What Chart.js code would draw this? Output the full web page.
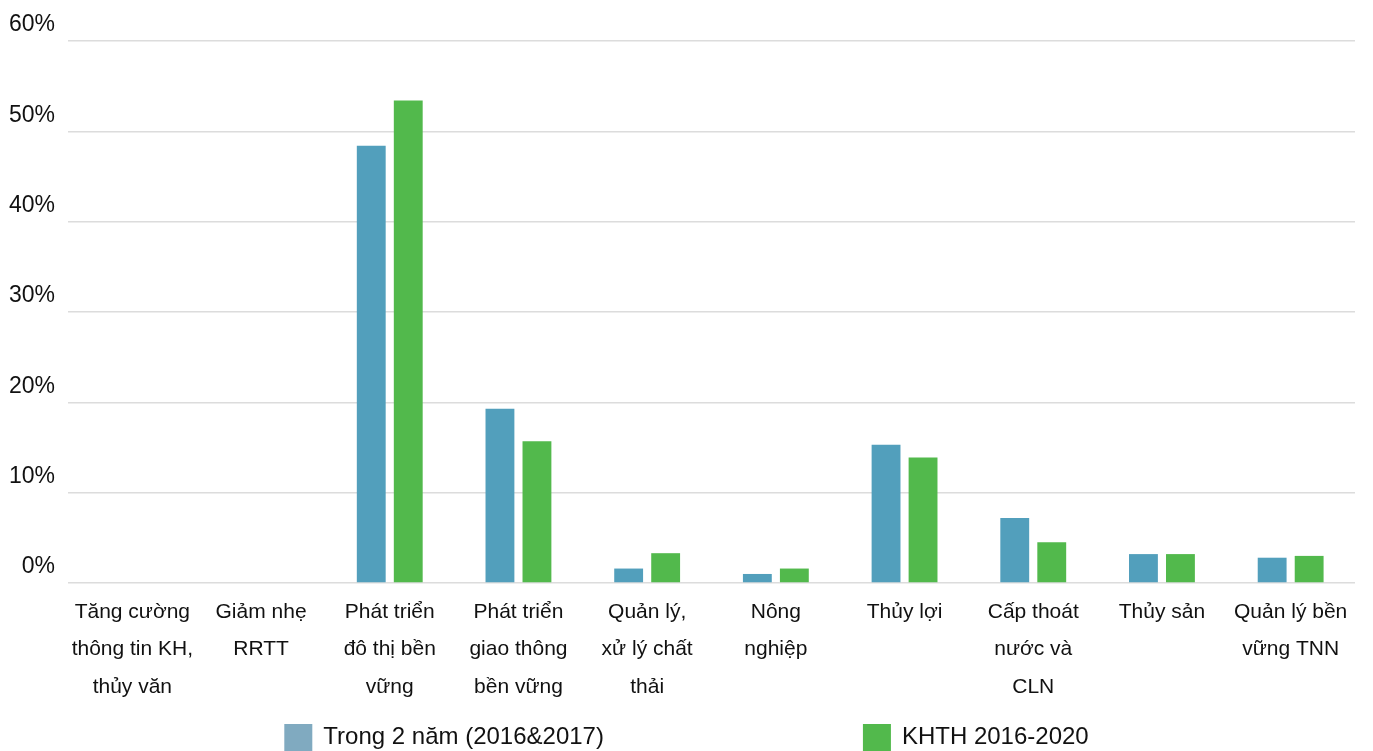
<!DOCTYPE html>
<html>
<head>
<meta charset="utf-8">
<script src="https://cdn.jsdelivr.net/npm/chart.js@4.4.1/dist/chart.umd.min.js"></script>
<style>
  html, body { margin: 0; padding: 0; background: #ffffff; }
  #wrap { width: 1373px; height: 751px; position: relative; }
</style>
</head>
<body>
<div id="wrap"><canvas id="chart"></canvas></div>
<script>
// Danh mục lĩnh vực (nhãn trục hoành, xuống dòng như bản gốc)
const categories = [
  ["Tăng cường", "thông tin KH,", "thủy văn"],
  ["Giảm nhẹ", "RRTT"],
  ["Phát triển", "đô thị bền", "vững"],
  ["Phát triển", "giao thông", "bền vững"],
  ["Quản lý,", "xử lý chất", "thải"],
  ["Nông", "nghiệp"],
  ["Thủy lợi"],
  ["Cấp thoát", "nước và", "CLN"],
  ["Thủy sản"],
  ["Quản lý bền", "vững TNN"]
];

// Tỷ trọng vốn (%) theo từng lĩnh vực
const seriesNames = ["Trong 2 năm (2016&2017)", "KHTH 2016-2020"];
const trong2Nam = [0, 0, 48.4, 19.3, 1.6, 1.0, 15.3, 7.2, 3.2, 2.8];
const khth = [0, 0, 53.4, 15.7, 3.3, 1.6, 13.9, 4.5, 3.2, 3.0];

// Vạch chia trục tung
const yTicks = [0, 10, 20, 30, 40, 50, 60];

const FONT = "'Liberation Sans', Arial, Helvetica, sans-serif";
const BLUE = "#529fbc";
const BLUE_LEGEND = "#80aac0";
const GREEN = "#52b94c";

// Chú giải vẽ thủ công phía dưới để giãn cách rộng giữa hai mục
const bottomLegend = {
  id: "bottomLegend",
  afterDraw(chart) {
    const ctx = chart.ctx;
    const items = [
      { text: seriesNames[0], color: BLUE_LEGEND },
      { text: seriesNames[1], color: GREEN }
    ];
    const box = 28, gap = 11, spacing = 259;
    ctx.save();
    ctx.font = "24px " + FONT;
    const widths = items.map(it => box + gap + ctx.measureText(it.text).width);
    const total = widths[0] + spacing + widths[1];
    let x = chart.width / 2 - total / 2;
    const yMid = 737;
    items.forEach((it, i) => {
      ctx.fillStyle = it.color;
      ctx.fillRect(x, yMid - 13, box, 28);
      ctx.fillStyle = "#111111";
      ctx.textBaseline = "middle";
      ctx.textAlign = "left";
      ctx.fillText(it.text, x + box + gap, yMid);
      x += widths[i] + spacing;
    });
    ctx.restore();
  }
};

new Chart(document.getElementById("chart"), {
  type: "bar",
  data: {
    labels: categories,
    datasets: [
      { label: seriesNames[0], data: trong2Nam, backgroundColor: BLUE,
        barPercentage: 0.78, categoryPercentage: 0.575 },
      { label: seriesNames[1], data: khth, backgroundColor: GREEN,
        barPercentage: 0.78, categoryPercentage: 0.575 }
    ]
  },
  options: {
    responsive: true,
    maintainAspectRatio: false,
    animation: false,
    layout: { padding: { top: 41, right: 18, left: 0, bottom: 0 } },
    plugins: {
      legend: { display: false },
      tooltip: { enabled: false }
    },
    scales: {
      x: {
        grid: { display: false, drawTicks: false },
        border: { display: false },
        ticks: {
          color: "#111111",
          font: { family: FONT, size: 21, lineHeight: 1.8 },
          padding: 10,
          maxRotation: 0,
          autoSkip: false
        },
        afterFit(scale) { scale.height = 168; }
      },
      y: {
        min: 0,
        max: 60,
        afterBuildTicks(scale) { scale.ticks = yTicks.map(v => ({ value: v })); },
        grid: { color: "#dcdcdc", lineWidth: 1.5, drawTicks: false },
        border: { display: false },
        ticks: {
          color: "#111111",
          font: { family: FONT, size: 23 },
          padding: 13,
          labelOffset: -16,
          callback: v => v + "%"
        },
        afterFit(scale) { scale.width = 68; }
      }
    }
  },
  plugins: [bottomLegend]
});
</script>
</body>
</html>
